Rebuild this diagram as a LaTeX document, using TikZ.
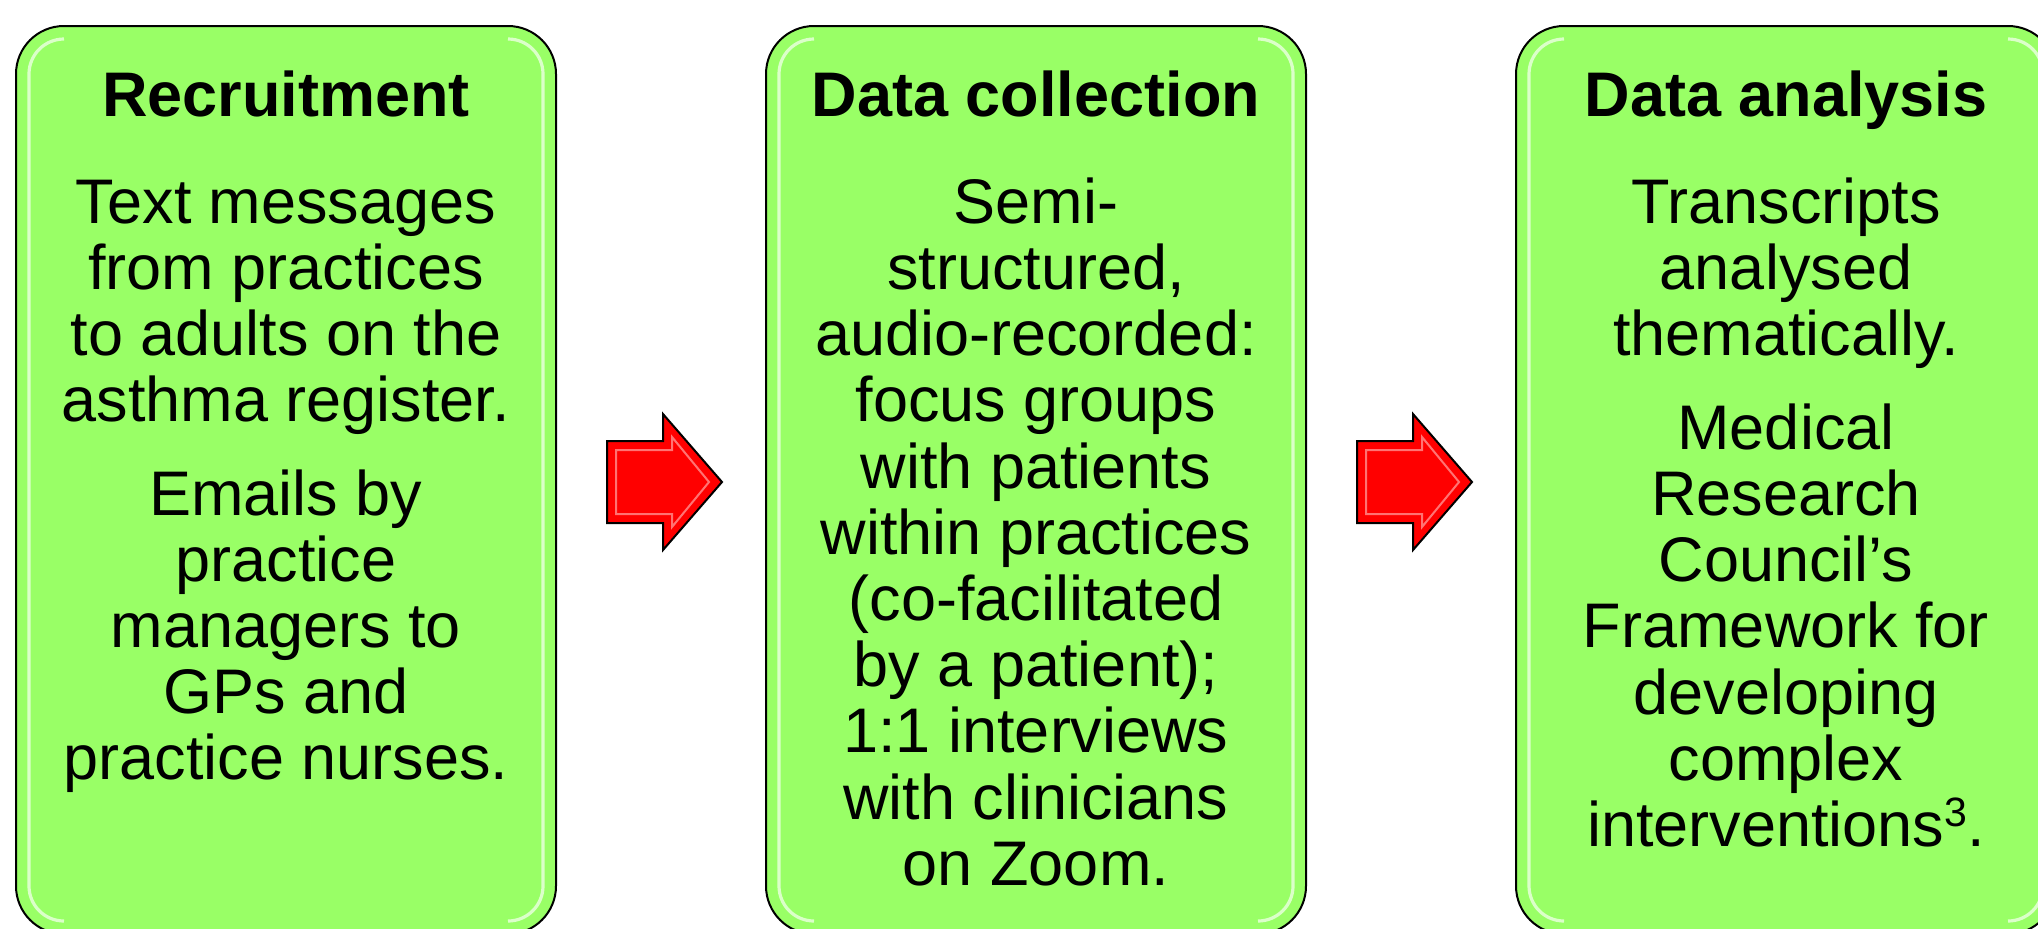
\documentclass[tikz,border=0pt]{standalone}
\usepackage{fontspec}
\setmainfont{Liberation Sans}
\definecolor{boxgreen}{RGB}{153,255,102}
\definecolor{arrowred}{RGB}{255,0,0}
\newcommand\supthree{\raisebox{10pt}{\fontsize{20.5}{20.5}\selectfont 3}}
\begin{document}
\begin{tikzpicture}[x=0.5pt,y=-0.5pt,
  box/.style={draw=black,line width=1pt,fill=boxgreen,rounded corners=24pt,minimum width=270pt,minimum height=454pt,inner sep=0pt},
  hl/.style={draw=white,line width=1.6pt,opacity=0.65,rounded corners=17.5pt},
  ahl/.style={draw=white,line width=1pt,opacity=0.45,line join=miter},
  ttl/.style={font=\fontsize{31.5}{33}\selectfont\bfseries,anchor=base,inner sep=0pt},
  body/.style={font=\fontsize{31.5}{33}\selectfont,anchor=base,inner sep=0pt},
  blockarrow/.style={draw=black,line width=1pt,fill=arrowred,line join=miter}]

\path[use as bounding box] (0,0) rectangle (2038,928);
\clip (0,0) rectangle (2038,928);

% boxes
\node[box] (b1) at (286,480) {};
\node[box] (b2) at (1036,480) {};
\node[box] (b3) at (1786,480) {};

% bevel highlights
\foreach \x in {16,766,1516}{
  \draw[hl] ({\x+48},39) -- ({\x+13},39) -- ({\x+13},921) -- ({\x+48},921);
  \draw[hl] ({\x+492},39) -- ({\x+527},39) -- ({\x+527},921) -- ({\x+492},921);
}

% block arrows between boxes
\foreach \s in {0,750}{
  \draw[blockarrow] ({607+\s},441) -- ({663+\s},441) -- ({663+\s},414) -- ({722+\s},482)
     -- ({663+\s},550) -- ({663+\s},523) -- ({607+\s},523) -- cycle;
  \draw[ahl] ({616+\s},450) -- ({672+\s},450) -- ({672+\s},437) -- ({709+\s},482)
     -- ({672+\s},527) -- ({672+\s},514) -- ({616+\s},514) -- cycle;
}

% titles
\node[ttl] (t1) at (286,116.7) {Recruitment};
\node[ttl] (t2) at (1036,116.7) {Data collection};
\node[ttl] (t3) at (1786,116.7) {Data analysis};

% box 1 text
\foreach \t [count=\i from 0] in {Text messages,from practices,to adults on the,asthma register.}
  \node[body] (pa\i) at (286,{223.3+\i*66.2}) {\t};
\foreach \t [count=\i from 0] in {Emails by,practice,managers to,GPs and,practice nurses.}
  \node[body] (pb\i) at (286,{515+\i*66.2}) {\t};

% box 2 text
\foreach \t [count=\i from 0] in {{Semi-},{structured,},{audio-recorded:},{focus groups},{with patients},{within practices},{(co-facilitated},{by a patient);},{1:1 interviews},{with clinicians},{on Zoom.}}
  \node[body] (pc\i) at (1036,{223.3+\i*66.2}) {\t};

% box 3 text
\foreach \t [count=\i from 0] in {Transcripts,analysed,thematically.}
  \node[body] (pd\i) at (1786,{223.3+\i*66.2}) {\t};
\foreach \t [count=\i from 0] in {Medical,Research,Council’s,Framework for,developing,complex,{interventions\supthree.}}
  \node[body] (pe\i) at (1786,{449.3+\i*66.2}) {\t};
\end{tikzpicture}
\end{document}
